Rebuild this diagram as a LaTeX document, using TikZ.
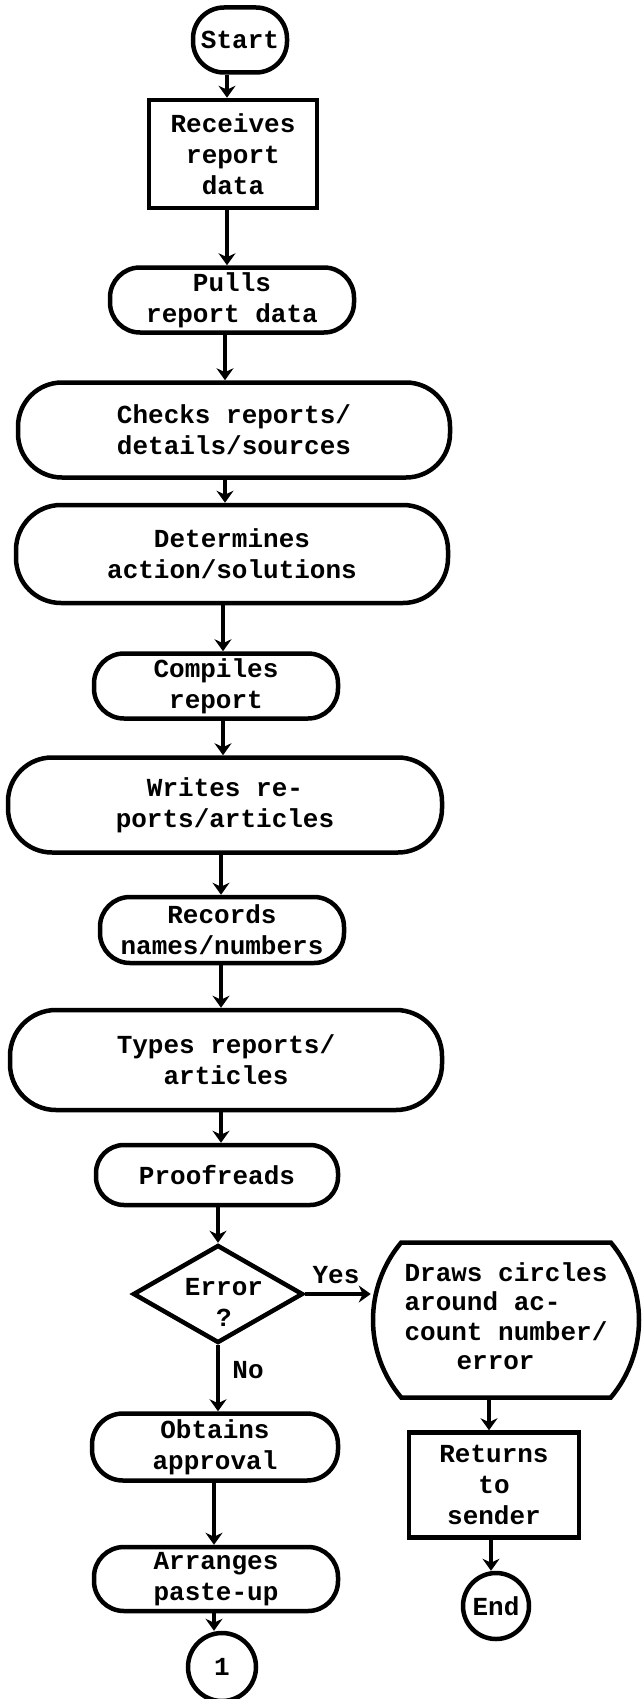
\documentclass[tikz,border=0pt]{standalone}
\usepackage{fontspec}
\newfontfamily\tw{Liberation Mono}
\usetikzlibrary{arrows.meta,shapes.geometric,shapes.misc}

\begin{document}
\begin{tikzpicture}[x=1pt,y=-1pt,
  every node/.style={font=\tw\bfseries\fontsize{26}{31}\selectfont, align=center, inner sep=0pt},
  box/.style={draw, line width=4.5pt, rectangle},
  pill/.style={draw, line width=4.5pt, rectangle},
  ring/.style={draw, line width=4.5pt, circle},
  arr/.style={line width=4.5pt, -{Stealth[length=12pt,width=17pt]}},
]
\useasboundingbox[fill=white] (0,0) rectangle (642,1699);

% main column
\node[pill, minimum width=94pt, minimum height=65pt, rounded corners=31pt] (start) at (240,40) {Start};
\node[box, minimum width=168pt, minimum height=108pt] (recv) at (233,154) {Receives\\report\\data};
\node[pill, minimum width=244pt, minimum height=65pt, rounded corners=30pt] (pulls) at (232,300) {Pulls\\report data};
\node[pill, minimum width=432pt, minimum height=95pt, rounded corners=44pt] (checks) at (234,430) {Checks reports/\\details/sources};
\node[pill, minimum width=432pt, minimum height=98pt, rounded corners=45pt] (determ) at (232,554) {Determines\\action/solutions};
\node[pill, minimum width=244pt, minimum height=65pt, rounded corners=30pt] (compiles) at (216,686) {Compiles\\report};
\node[pill, minimum width=434pt, minimum height=95pt, rounded corners=44pt] (writes) at (225,805) {Writes re-\\ports/articles};
\node[pill, minimum width=244pt, minimum height=66pt, rounded corners=30pt] (records) at (222,930) {Records\\names/numbers};
\node[pill, minimum width=432pt, minimum height=100pt, rounded corners=46pt] (types) at (226,1060) {Types reports/\\articles};
\node[pill, minimum width=242pt, minimum height=60pt, rounded corners=28pt] (proof) at (217,1175) {Proofreads};
\node[draw, diamond, line width=4.5pt, minimum width=170pt, minimum height=98pt] (err) at (218,1294) {};
\node (errtxt) at (224,1302) {Error\\?};
\node[pill, minimum width=246pt, minimum height=67pt, rounded corners=31pt] (obtains) at (215,1447) {Obtains\\approval};
\node[pill, minimum width=244pt, minimum height=64pt, rounded corners=30pt] (arranges) at (216,1579) {Arranges\\paste-up};
\node[ring, minimum size=68pt] (conn) at (222,1667) {1};

% error branch
\node[draw, line width=4.5pt, rounded rectangle, rounded rectangle arc length=80,
      minimum width=266pt, minimum height=155pt] (draws) at (506,1320) {};
\node[align=left, font=\tw\bfseries\fontsize{26}{29.5}\selectfont] (drawstxt) at (506,1316)
  {Draws circles\\around ac-\\count number/\\\hspace*{2em}error};
\node[box, minimum width=170pt, minimum height=105pt] (returns) at (494,1485) {Returns\\to\\sender};
\node[ring, minimum size=66pt] (end) at (496,1606) {End};

% branch labels
\node (yes) at (336,1275) {Yes};
\node (no) at (248,1370) {No};

% connectors
\draw[arr] (start.south -| 227,0) -- (recv.north -| 227,0);
\draw[arr] (recv.south -| 227,0) -- (pulls.north -| 227,0);
\draw[arr] (pulls.south -| 225,0) -- (checks.north -| 225,0);
\draw[arr] (checks.south -| 225,0) -- (determ.north -| 225,0);
\draw[arr] (determ.south -| 223,0) -- (compiles.north -| 223,0);
\draw[arr] (compiles.south -| 223,0) -- (writes.north -| 223,0);
\draw[arr] (writes.south -| 221,0) -- (records.north -| 221,0);
\draw[arr] (records.south -| 221,0) -- (types.north -| 221,0);
\draw[arr] (types.south -| 221,0) -- (proof.north -| 221,0);
\draw[arr] (proof.south -| 218,0) -- (err.north);
\draw[arr] (err.south) -- (err.south |- obtains.north);
\draw[arr] (obtains.south -| 214,0) -- (arranges.north -| 214,0);
\draw[arr] (arranges.south -| 214,0) -- (conn.north -| 214,0);
\draw[arr] (err.east) -- (err.east -| draws.west);
\draw[arr] (draws.south -| 489,0) -- (returns.north -| 489,0);
\draw[arr] (returns.south -| 491,0) -- (end.north -| 491,0);
\end{tikzpicture}
\end{document}
